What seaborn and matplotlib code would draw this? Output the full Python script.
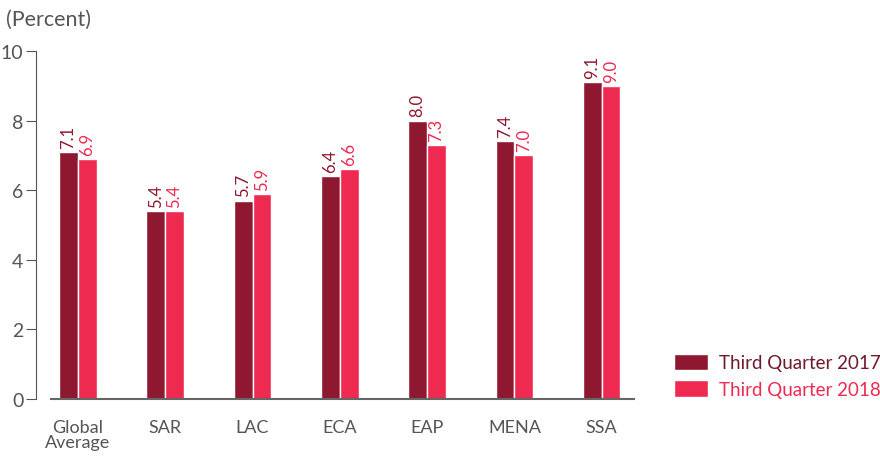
import pandas as pd
import matplotlib
matplotlib.use("Agg")
import matplotlib.pyplot as plt
import seaborn as sns
from matplotlib.patches import Patch

regions = ["Global\nAverage", "SAR", "LAC", "ECA", "EAP", "MENA", "SSA"]
q3_2017 = [7.1, 5.4, 5.7, 6.4, 8.0, 7.4, 9.1]
q3_2018 = [6.9, 5.4, 5.9, 6.6, 7.3, 7.0, 9.0]
series = ["Third Quarter 2017", "Third Quarter 2018"]

dark = "#8E1830"
bright = "#EE2A50"

df = pd.DataFrame({
    "region": regions * 2,
    "value": q3_2017 + q3_2018,
    "series": [series[0]] * len(regions) + [series[1]] * len(regions),
})

sns.set_style("white")
plt.rcParams["font.family"] = ["Lato", "DejaVu Sans"]

fig = plt.figure(figsize=(8.8, 4.6), dpi=100)
ax = fig.add_axes([36 / 880, 60 / 460, (634 - 36) / 880, (400 - 52) / 460])

sns.barplot(data=df, x="region", y="value", hue="series",
            palette=[dark, bright], width=0.43, gap=0, saturation=1,
            ax=ax, legend=False)

# value labels, rotated like the original
for cont, col in zip(ax.containers, [dark, bright]):
    ax.bar_label(cont, fmt="%.1f", rotation=90, padding=3, color=col, fontsize=12)

ax.set_xlim(-0.48, 6.37)
ax.set_ylim(0, 10)
ax.set_yticks([0, 2, 4, 6, 8, 10])
ax.set_xlabel("")
ax.set_ylabel("")
for s in ["top", "right"]:
    ax.spines[s].set_visible(False)
ax.spines["left"].set_color("#555555")
ax.spines["bottom"].set_color("#666666")
ax.spines["bottom"].set_linewidth(1.5)
ax.spines["bottom"].set_bounds(-0.31, 6.37)
ax.tick_params(axis="y", left=True, length=7, color="#555555", labelsize=14, labelcolor="#555555", pad=2)
ax.tick_params(axis="x", bottom=False, labelsize=13, labelcolor="#555555", pad=11)
for lbl in ax.get_xticklabels():
    lbl.set_linespacing(0.95)

fig.text(6 / 880, 1 - 20 / 460, "(Percent)", fontsize=15.5, color="#555555", va="center")

handles = [Patch(facecolor=dark), Patch(facecolor=bright)]
leg = fig.legend(handles, series, loc="upper left", bbox_to_anchor=(666 / 880, 1 - 347 / 460),
                 frameon=False, fontsize=13.5, handlelength=1.85, handleheight=1.0,
                 handletextpad=0.55, labelspacing=0.45, borderaxespad=0)
for t, c in zip(leg.get_texts(), ["#6E1A2C", bright]):
    t.set_color(c)

fig.savefig("out.png", dpi=100)
